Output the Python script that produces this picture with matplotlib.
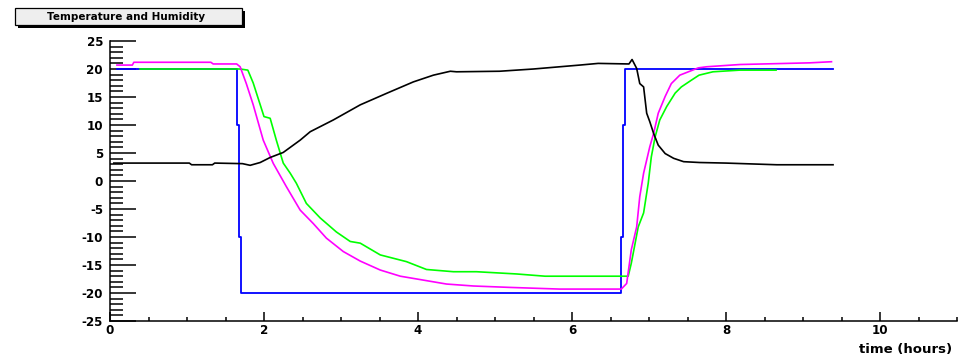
import matplotlib
matplotlib.use('Agg')
import matplotlib.pyplot as plt
from matplotlib.ticker import MultipleLocator
from matplotlib.patches import Rectangle

# set point (blue), stepwise
blue_t = [0.09, 1.645, 1.67, 1.70, 6.64, 6.665, 6.69, 9.39]
blue_v = [20, 10, -10, -20, -10, 10, 20, 20]

# magenta
mag_t = [0.09, 0.29, 0.31, 1.31, 1.34, 1.645, 1.69, 1.77, 1.86, 1.99, 2.12, 2.29,
         2.47, 2.64, 2.81, 3.03, 3.25, 3.51, 3.77, 4.07, 4.37, 4.72, 5.19, 5.84,
         6.64, 6.71, 6.77, 6.84, 6.88, 6.93, 7.01, 7.06, 7.12, 7.21, 7.29, 7.4,
         7.53, 7.64, 7.75, 8.18, 9.09, 9.37]
mag_v = [20.7, 20.7, 21.2, 21.2, 20.9, 20.9, 20.4, 17.4, 13.6, 7.3, 3.15, -1.0,
         -5.2, -7.6, -10.2, -12.6, -14.3, -15.9, -17.0, -17.7, -18.4, -18.75, -19.0, -19.3,
         -19.3, -18.3, -12.3, -8.2, -2.8, 1.4, 6.1, 8.5, 12.1, 15.1, 17.4, 18.9,
         19.6, 20.2, 20.4, 20.8, 21.1, 21.3]

# green
grn_t = [0.39, 1.69, 1.79, 1.86, 1.93, 2.0, 2.08, 2.16, 2.25, 2.34, 2.42, 2.55,
         2.73, 2.94, 3.12, 3.25, 3.51, 3.85, 4.11, 4.46, 4.76, 5.28, 5.65, 6.73,
         6.77, 6.82, 6.86, 6.93, 6.99, 7.03, 7.08, 7.14, 7.23, 7.34, 7.42, 7.55,
         7.65, 7.83, 8.18, 8.65]
grn_v = [20, 20, 19.8, 17.5, 14.5, 11.5, 11.2, 7.3, 3.2, 1.4, -0.4, -4.0,
         -6.6, -9.1, -10.8, -11.1, -13.2, -14.4, -15.8, -16.2, -16.2, -16.6, -17.0, -17.0,
         -14.7, -11.1, -8.2, -5.7, -0.4, 4.3, 7.9, 10.9, 13.3, 15.7, 16.8, 18.0,
         18.9, 19.5, 19.8, 19.8]

# black (humidity)
blk_t = [0.05, 1.03, 1.06, 1.33, 1.36, 1.72, 1.82, 1.95, 2.08, 2.25, 2.47, 2.6,
         2.9, 3.25, 3.6, 3.94, 4.2, 4.42, 4.5, 5.06, 5.5, 6.1, 6.34, 6.74,
         6.78, 6.84, 6.88, 6.93, 6.97, 7.01, 7.06, 7.12, 7.21, 7.32, 7.45, 7.66,
         8.0, 8.66, 9.39]
blk_v = [3.2, 3.2, 2.9, 2.9, 3.2, 3.1, 2.8, 3.3, 4.2, 5.1, 7.3, 8.8,
         10.9, 13.6, 15.7, 17.7, 18.9, 19.6, 19.5, 19.6, 20.0, 20.7, 21.0, 20.9,
         21.7, 20.1, 17.4, 16.8, 12.1, 10.6, 8.5, 6.4, 4.9, 4.05, 3.45, 3.3,
         3.2, 2.9, 2.9]

plt.rcParams['font.family'] = ['DejaVu Sans']
plt.rcParams['font.weight'] = 'bold'
plt.rcParams['axes.unicode_minus'] = False

fig = plt.figure(figsize=(9.58, 3.57), dpi=100)
ax = fig.add_axes([110/958, 36/357, 847/958, 280/357])

ax.plot(blue_t, blue_v, color='#0000ff', lw=1.3, drawstyle='steps-post')
ax.plot(grn_t, grn_v, color='#00ff00', lw=1.2)
ax.plot(mag_t, mag_v, color='#ff00ff', lw=1.2)
ax.plot(blk_t, blk_v, color='black', lw=1.2)

ax.set_xlim(0, 11)
ax.set_ylim(-25, 25)
ax.xaxis.set_major_locator(MultipleLocator(2))
ax.xaxis.set_minor_locator(MultipleLocator(0.5))
ax.yaxis.set_major_locator(MultipleLocator(5))
ax.yaxis.set_minor_locator(MultipleLocator(1))

for s in ['top', 'right']:
    ax.spines[s].set_visible(False)
for s in ['left', 'bottom']:
    ax.spines[s].set_linewidth(1.1)

ax.tick_params(axis='y', which='major', direction='in', length=19, width=1.1, pad=5, labelsize=8.6)
ax.tick_params(axis='y', which='minor', direction='in', length=9.5, width=1.1)
ax.tick_params(axis='x', which='major', direction='in', length=6.5, width=1.1, pad=2, labelsize=8.6)
ax.tick_params(axis='x', which='minor', direction='in', length=3.2, width=1.1)

fig.text(952/958, (357-350)/357, 'time (hours)', ha='right', va='center',
         fontsize=9.5, fontweight='bold')

# title box with shadow
fig.patches.append(Rectangle((18/958, (357-28)/357), 227/958, 17/357,
                             transform=fig.transFigure, facecolor='black',
                             edgecolor='none', figure=fig))
fig.patches.append(Rectangle((15/958, (357-25)/357), 227/958, 17/357,
                             transform=fig.transFigure, facecolor='#eeeeee',
                             edgecolor='black', lw=0.9, figure=fig))
fig.text(126/958, (357-16.5)/357, 'Temperature and Humidity', ha='center',
         va='center', fontsize=7.5, fontweight='bold')

fig.savefig('out.png', dpi=100)
